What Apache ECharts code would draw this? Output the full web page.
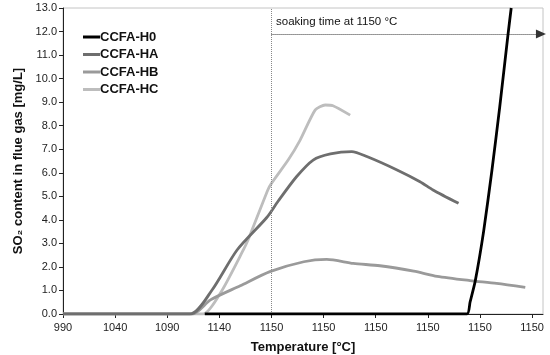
<!DOCTYPE html>
<html>
<head>
<meta charset="utf-8">
<script src="https://cdn.jsdelivr.net/npm/echarts@6/dist/echarts.min.js"></script>
<style>html,body{margin:0;padding:0;background:#fff;}#c{width:550px;height:355px;}</style>
</head>
<body>
<div id="c"></div>
<script>
// x tick labels (temperature, then soaking time at 1150 °C); x positions are tick-index units
const xLabels = ['990','1040','1090','1140','1150','1150','1150','1150','1150','1150'];
const xMax = 9.21;
const yMin = 0, yMax = 13;

const h0Pos = [2.72, 7.75, 7.81, 7.91, 8.07, 8.23, 8.38, 8.54, 8.60];
const h0Val = [0, 0, 0.5, 1.4, 3.5, 6.1, 8.8, 11.9, 13.0];

const haPos = [0, 2.44, 2.86, 3.34, 3.91, 4.13, 4.48, 4.80, 5.13, 5.54, 5.83, 6.41, 6.85, 7.10, 7.59];
const haVal = [0, 0, 1.02, 2.72, 4.1, 4.8, 5.83, 6.54, 6.8, 6.9, 6.69, 6.12, 5.62, 5.27, 4.70];

const hbPos = [0, 2.48, 2.83, 3.40, 3.97, 4.62, 5.06, 5.57, 6.08, 6.73, 7.18, 7.81, 8.32, 8.87];
const hbVal = [0, 0, 0.6, 1.2, 1.8, 2.22, 2.32, 2.15, 2.05, 1.82, 1.6, 1.42, 1.3, 1.13];

const hcPos = [0, 2.69, 3.05, 3.46, 3.55, 3.93, 4.00, 4.32, 4.55, 4.84, 5.03, 5.18, 5.51];
const hcVal = [0, 0, 1.0, 2.72, 3.14, 5.27, 5.55, 6.54, 7.39, 8.67, 8.88, 8.85, 8.45];

const soakStart = 4, soakEnd = 9.17, soakLevel = 11.9;

const zip = (a, b) => a.map((x, i) => [x, b[i]]);
const FONT = "'Liberation Sans', Arial, sans-serif";

const chart = echarts.init(document.getElementById('c'), null, {renderer: 'canvas'});
chart.setOption({
  animation: false,
  textStyle: {fontFamily: FONT},
  grid: {left: 63, right: 7, top: 8, bottom: 41, show: true, borderColor: '#c4c4c4', borderWidth: 1,
         containLabel: false, outerBoundsMode: 'none'},
  legend: {
    orient: 'vertical', left: 78, top: 25, itemGap: 3.5,
    itemWidth: 17, itemHeight: 3, icon: 'rect',
    textStyle: {fontFamily: FONT, fontWeight: 'bold', fontSize: 13, color: '#111', lineHeight: 14, padding: [0, 0, 0, -5]},
    data: ['CCFA-H0', 'CCFA-HA', 'CCFA-HB', 'CCFA-HC']
  },
  xAxis: {
    type: 'value', min: 0, max: xMax, interval: 1,
    name: 'Temperature [°C]', nameLocation: 'middle', nameGap: 27,
    nameTextStyle: {fontFamily: FONT, fontWeight: 'bold', fontSize: 13, color: '#111'},
    axisLine: {lineStyle: {color: '#222', width: 1}},
    axisTick: {show: true, length: 4, inside: false, lineStyle: {color: '#222'}},
    axisLabel: {fontSize: 11, color: '#222', margin: 8, showMaxLabel: false,
                formatter: v => (Math.abs(v - Math.round(v)) < 1e-6 ? (xLabels[Math.round(v)] || '') : '')},
    splitLine: {show: false}
  },
  yAxis: {
    type: 'value', min: yMin, max: yMax, interval: 1,
    name: 'SO₂ content in flue gas [mg/L]', nameLocation: 'middle', nameGap: 38,
    nameTextStyle: {fontFamily: FONT, fontWeight: 'bold', fontSize: 13, color: '#111'},
    axisLine: {show: true, lineStyle: {color: '#222', width: 1}},
    axisTick: {show: true, length: 4, lineStyle: {color: '#222'}},
    axisLabel: {fontSize: 11, color: '#222', margin: 6, formatter: v => v.toFixed(1)},
    splitLine: {show: false}
  },
  series: [
    {
      name: 'CCFA-HC', type: 'line', data: zip(hcPos, hcVal), showSymbol: false, z: 2, smooth: 0.2,
      lineStyle: {color: '#bdbdbd', width: 2.8}, itemStyle: {color: '#bdbdbd'}
    },
    {
      name: 'CCFA-HB', type: 'line', data: zip(hbPos, hbVal), showSymbol: false, z: 3, smooth: 0.25,
      lineStyle: {color: '#9a9a9a', width: 2.8}, itemStyle: {color: '#9a9a9a'}
    },
    {
      name: 'CCFA-HA', type: 'line', data: zip(haPos, haVal), showSymbol: false, z: 4, smooth: 0.25,
      lineStyle: {color: '#6e6e6e', width: 2.8}, itemStyle: {color: '#6e6e6e'}
    },
    {
      name: 'CCFA-H0', type: 'line', data: zip(h0Pos, h0Val), showSymbol: false, z: 5, smooth: 0.2,
      lineStyle: {color: '#000', width: 2.8}, itemStyle: {color: '#000'},
      markLine: {
        silent: true, symbol: 'none', animation: false,
        label: {show: false},
        lineStyle: {color: '#888', type: 'dotted', width: 1},
        data: [[{coord: [soakStart, yMin]}, {coord: [soakStart, yMax]}]]
      }
    },
    {
      name: 'soak', type: 'line', data: [], z: 6,
      markLine: {
        silent: true, symbol: ['none', 'triangle'], symbolSize: [9, 10], animation: false,
        lineStyle: {color: '#333', type: 'dotted', width: 1},
        label: {show: false},
        data: [[{coord: [soakStart, soakLevel]}, {coord: [soakEnd, soakLevel]}]]
      }
    }
  ],
  graphic: [{
    type: 'text', left: 276, top: 16,
    style: {text: 'soaking time at 1150 °C', font: "11.5px " + FONT, fill: '#111'}
  }]
});
</script>
</body>
</html>
